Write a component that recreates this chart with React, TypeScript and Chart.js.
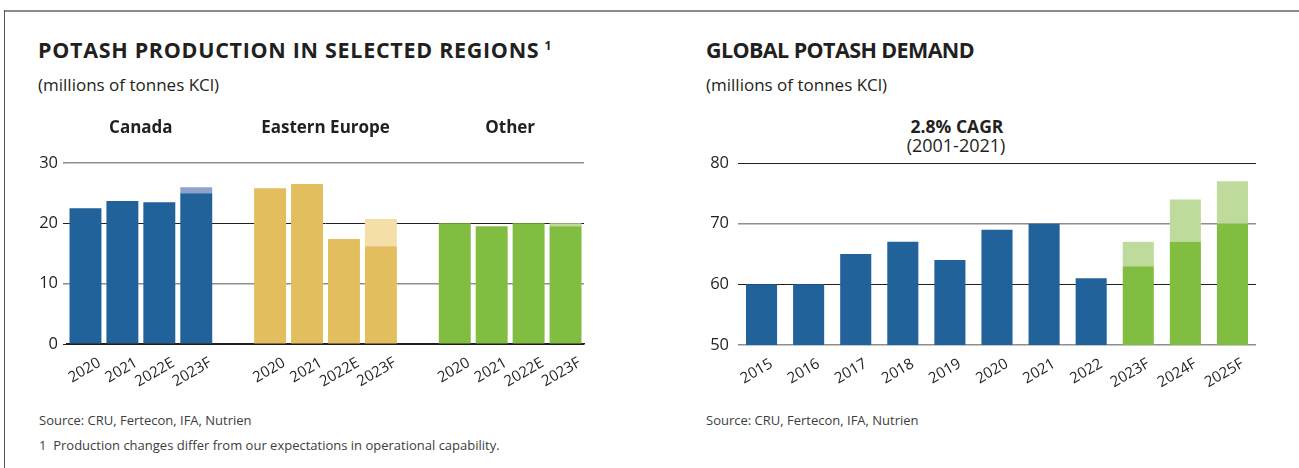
import React, { useEffect, useRef } from "react";
import { Chart, registerables } from "chart.js";

Chart.register(...registerables);

// ---------- data ----------
const regionGroups = ["Canada", "Eastern Europe", "Other"];
const productionYears = ["2020", "2021", "2022E", "2023F"];
const canadaBase = [22.5, 23.7, 23.5, 25.0];
const canadaHigh = [null, null, null, 26.0];
const easternEuropeBase = [25.8, 26.5, 17.4, 16.2];
const easternEuropeHigh = [null, null, null, 20.7];
const otherBase = [20.0, 19.5, 20.0, 19.5];
const otherHigh = [null, null, null, 20.0];
const productionTicks = [0, 10, 20, 30];

const demandYears = ["2015", "2016", "2017", "2018", "2019", "2020", "2021", "2022", "2023F", "2024F", "2025F"];
const demandActual = [60, 60, 65, 67, 64, 69, 70, 61, null, null, null];
const demandForecastLow = [null, null, null, null, null, null, null, null, 63, 67, 70];
const demandForecastHigh = [null, null, null, null, null, null, null, null, 67, 74, 77];
const demandTicks = [50, 60, 70, 80];

// ---------- styles ----------
const FONT = "'Open Sans', 'Noto Sans', sans-serif";
const TEXT = "#231f20";
const BLUE = "#22629a";
const BLUE_LIGHT = "#8ea3c9";
const GOLD = "#e2be5f";
const GOLD_LIGHT = "#f5dfa9";
const GREEN = "#80bd41";
const GREEN_LIGHT = "#bedb9b";

function gridColor(ctx: any) {
  return ctx.tick && ctx.tick.value % 20 === 0 ? "#231f20" : "#8f8f8f";
}
function gridWidth(ctx: any) {
  return ctx.tick && ctx.tick.value % 20 === 0 ? 1 : 1.6;
}

function ProductionChart() {
  const ref = useRef<HTMLCanvasElement>(null);
  useEffect(() => {
    const labels: string[] = [];
    const base: (number | null)[] = [];
    const upside: (number | null)[] = [];
    const baseColors: string[] = [];
    const upColors: string[] = [];
    const series = [
      [canadaBase, canadaHigh, BLUE, BLUE_LIGHT],
      [easternEuropeBase, easternEuropeHigh, GOLD, GOLD_LIGHT],
      [otherBase, otherHigh, GREEN, GREEN_LIGHT],
    ] as any[];
    series.forEach((s, g) => {
      if (g > 0) {
        labels.push("");
        base.push(null);
        upside.push(null);
        baseColors.push("transparent");
        upColors.push("transparent");
      }
      productionYears.forEach((y, i) => {
        labels.push(y);
        base.push(s[0][i]);
        upside.push(s[1][i] == null ? null : s[1][i] - s[0][i]);
        baseColors.push(s[2]);
        upColors.push(s[3]);
      });
    });

    const groupLabels = {
      id: "groupLabels",
      afterDraw(chart: any) {
        const x = chart.scales.x;
        const c = chart.ctx;
        c.save();
        c.font = `700 17px ${FONT}`;
        c.fillStyle = TEXT;
        c.textAlign = "center";
        c.textBaseline = "middle";
        regionGroups.forEach((name, g) => {
          const start = g * (productionYears.length + 1);
          const end = start + productionYears.length - 1;
          const cx = (x.getPixelForValue(start) + x.getPixelForValue(end)) / 2;
          c.fillText(name, cx, 18);
        });
        c.restore();
      },
    };

    const chart = new Chart(ref.current!, {
      type: "bar",
      data: {
        labels,
        datasets: [
          { label: "Production", data: base, backgroundColor: baseColors, barPercentage: 0.865, categoryPercentage: 1 },
          { label: "Upside", data: upside, backgroundColor: upColors, barPercentage: 0.865, categoryPercentage: 1 },
        ],
      },
      options: {
        animation: false,
        responsive: false,
        devicePixelRatio: 1,
        layout: { padding: { top: 53, right: 16, left: 0, bottom: 0 } },
        plugins: { legend: { display: false }, tooltip: { enabled: false } },
        scales: {
          x: {
            stacked: true,
            grid: { display: false },
            border: { display: true, color: "#231f20", width: 1.5 },
            ticks: {
              autoSkip: false,
              minRotation: 30,
              maxRotation: 30,
              labelOffset: 14,
              padding: 2,
              color: TEXT,
              font: { family: FONT, size: 15 },
            },
            afterFit: (s: any) => { s.height = 56; },
          },
          y: {
            stacked: true,
            min: 0,
            max: 30,
            afterBuildTicks: (s: any) => { s.ticks = productionTicks.map((v) => ({ value: v })); },
            grid: { color: gridColor, lineWidth: gridWidth, drawTicks: true, tickLength: 4 },
            border: { display: false },
            ticks: { padding: 5, color: TEXT, font: { family: FONT, size: 16.5 } },
            afterFit: (s: any) => { s.width = 57; },
          },
        },
      },
      plugins: [groupLabels],
    });
    return () => chart.destroy();
  }, []);
  return <canvas ref={ref} width={590} height={290} style={{ position: "absolute", left: 10, top: 110 }} />;
}

function DemandChart() {
  const ref = useRef<HTMLCanvasElement>(null);
  useEffect(() => {
    const range = demandForecastHigh.map((h, i) => (h == null || demandForecastLow[i] == null ? null : h - (demandForecastLow[i] as number)));
    const chart = new Chart(ref.current!, {
      type: "bar",
      data: {
        labels: demandYears,
        datasets: [
          { label: "Demand", data: demandActual, backgroundColor: BLUE, barPercentage: 0.66, categoryPercentage: 1 },
          { label: "Forecast low", data: demandForecastLow, backgroundColor: GREEN, barPercentage: 0.66, categoryPercentage: 1 },
          { label: "Forecast range", data: range, backgroundColor: GREEN_LIGHT, barPercentage: 0.66, categoryPercentage: 1 },
        ],
      },
      options: {
        animation: false,
        responsive: false,
        devicePixelRatio: 1,
        layout: { padding: { top: 53, right: 24, left: 0, bottom: 0 } },
        plugins: { legend: { display: false }, tooltip: { enabled: false } },
        scales: {
          x: {
            stacked: true,
            grid: { display: false },
            border: { display: false },
            ticks: {
              autoSkip: false,
              minRotation: 30,
              maxRotation: 30,
              labelOffset: 10,
              padding: 2,
              color: TEXT,
              font: { family: FONT, size: 15 },
            },
            afterFit: (s: any) => { s.height = 55; },
          },
          y: {
            stacked: true,
            min: 50,
            max: 80,
            afterBuildTicks: (s: any) => { s.ticks = demandTicks.map((v) => ({ value: v })); },
            grid: { color: gridColor, lineWidth: gridWidth, drawTicks: false },
            border: { display: false },
            ticks: { padding: 9, color: TEXT, font: { family: FONT, size: 16.5 } },
            afterFit: (s: any) => { s.width = 48; },
          },
        },
      },
    });
    return () => chart.destroy();
  }, []);
  return <canvas ref={ref} width={590} height={290} style={{ position: "absolute", left: 690, top: 110 }} />;
}

const abs = (left: number, top: number, extra: React.CSSProperties = {}): React.CSSProperties => ({
  position: "absolute",
  left,
  top,
  lineHeight: 1,
  whiteSpace: "nowrap",
  fontFamily: FONT,
  color: TEXT,
  ...extra,
});

export default function App() {
  return (
    <div style={{ position: "absolute", left: 0, top: 0, width: 1299, height: 468, background: "#fff", overflow: "hidden" }}>
      <div style={{ position: "absolute", left: 5, top: 10, width: 1294, height: 2, background: "#8c8c8c" }} />
      <div style={{ position: "absolute", left: 4, top: 10, width: 1, height: 458, background: "#555" }} />

      <div style={abs(38, 39, { fontSize: 21.5, fontWeight: 700, letterSpacing: 0.7 })}>
        POTASH PRODUCTION IN SELECTED REGIONS<sup style={{ fontSize: 12, marginLeft: 5, verticalAlign: 8 }}>1</sup>
      </div>
      <div style={abs(38, 76, { fontSize: 17 })}>(millions of tonnes KCl)</div>

      <div style={abs(706, 39, { fontSize: 21.5, fontWeight: 700, letterSpacing: -0.6 })}>GLOBAL POTASH DEMAND</div>
      <div style={abs(706, 76, { fontSize: 17 })}>(millions of tonnes KCl)</div>

      <div style={abs(857, 118, { fontSize: 17.5, fontWeight: 700, width: 200, textAlign: "center" })}>2.8% CAGR</div>
      <div style={abs(856, 136, { fontSize: 18, width: 200, textAlign: "center" })}>(2001-2021)</div>

      <ProductionChart />
      <DemandChart />

      <div style={abs(39, 414, { fontSize: 13, color: "#3d3d3d" })}>Source: CRU, Fertecon, IFA, Nutrien</div>
      <div style={abs(39, 439, { fontSize: 13, color: "#3d3d3d" })}>1&nbsp;&nbsp;Production changes differ from our expectations in operational capability.</div>
      <div style={abs(706, 414, { fontSize: 13, color: "#3d3d3d" })}>Source: CRU, Fertecon, IFA, Nutrien</div>
    </div>
  );
}
